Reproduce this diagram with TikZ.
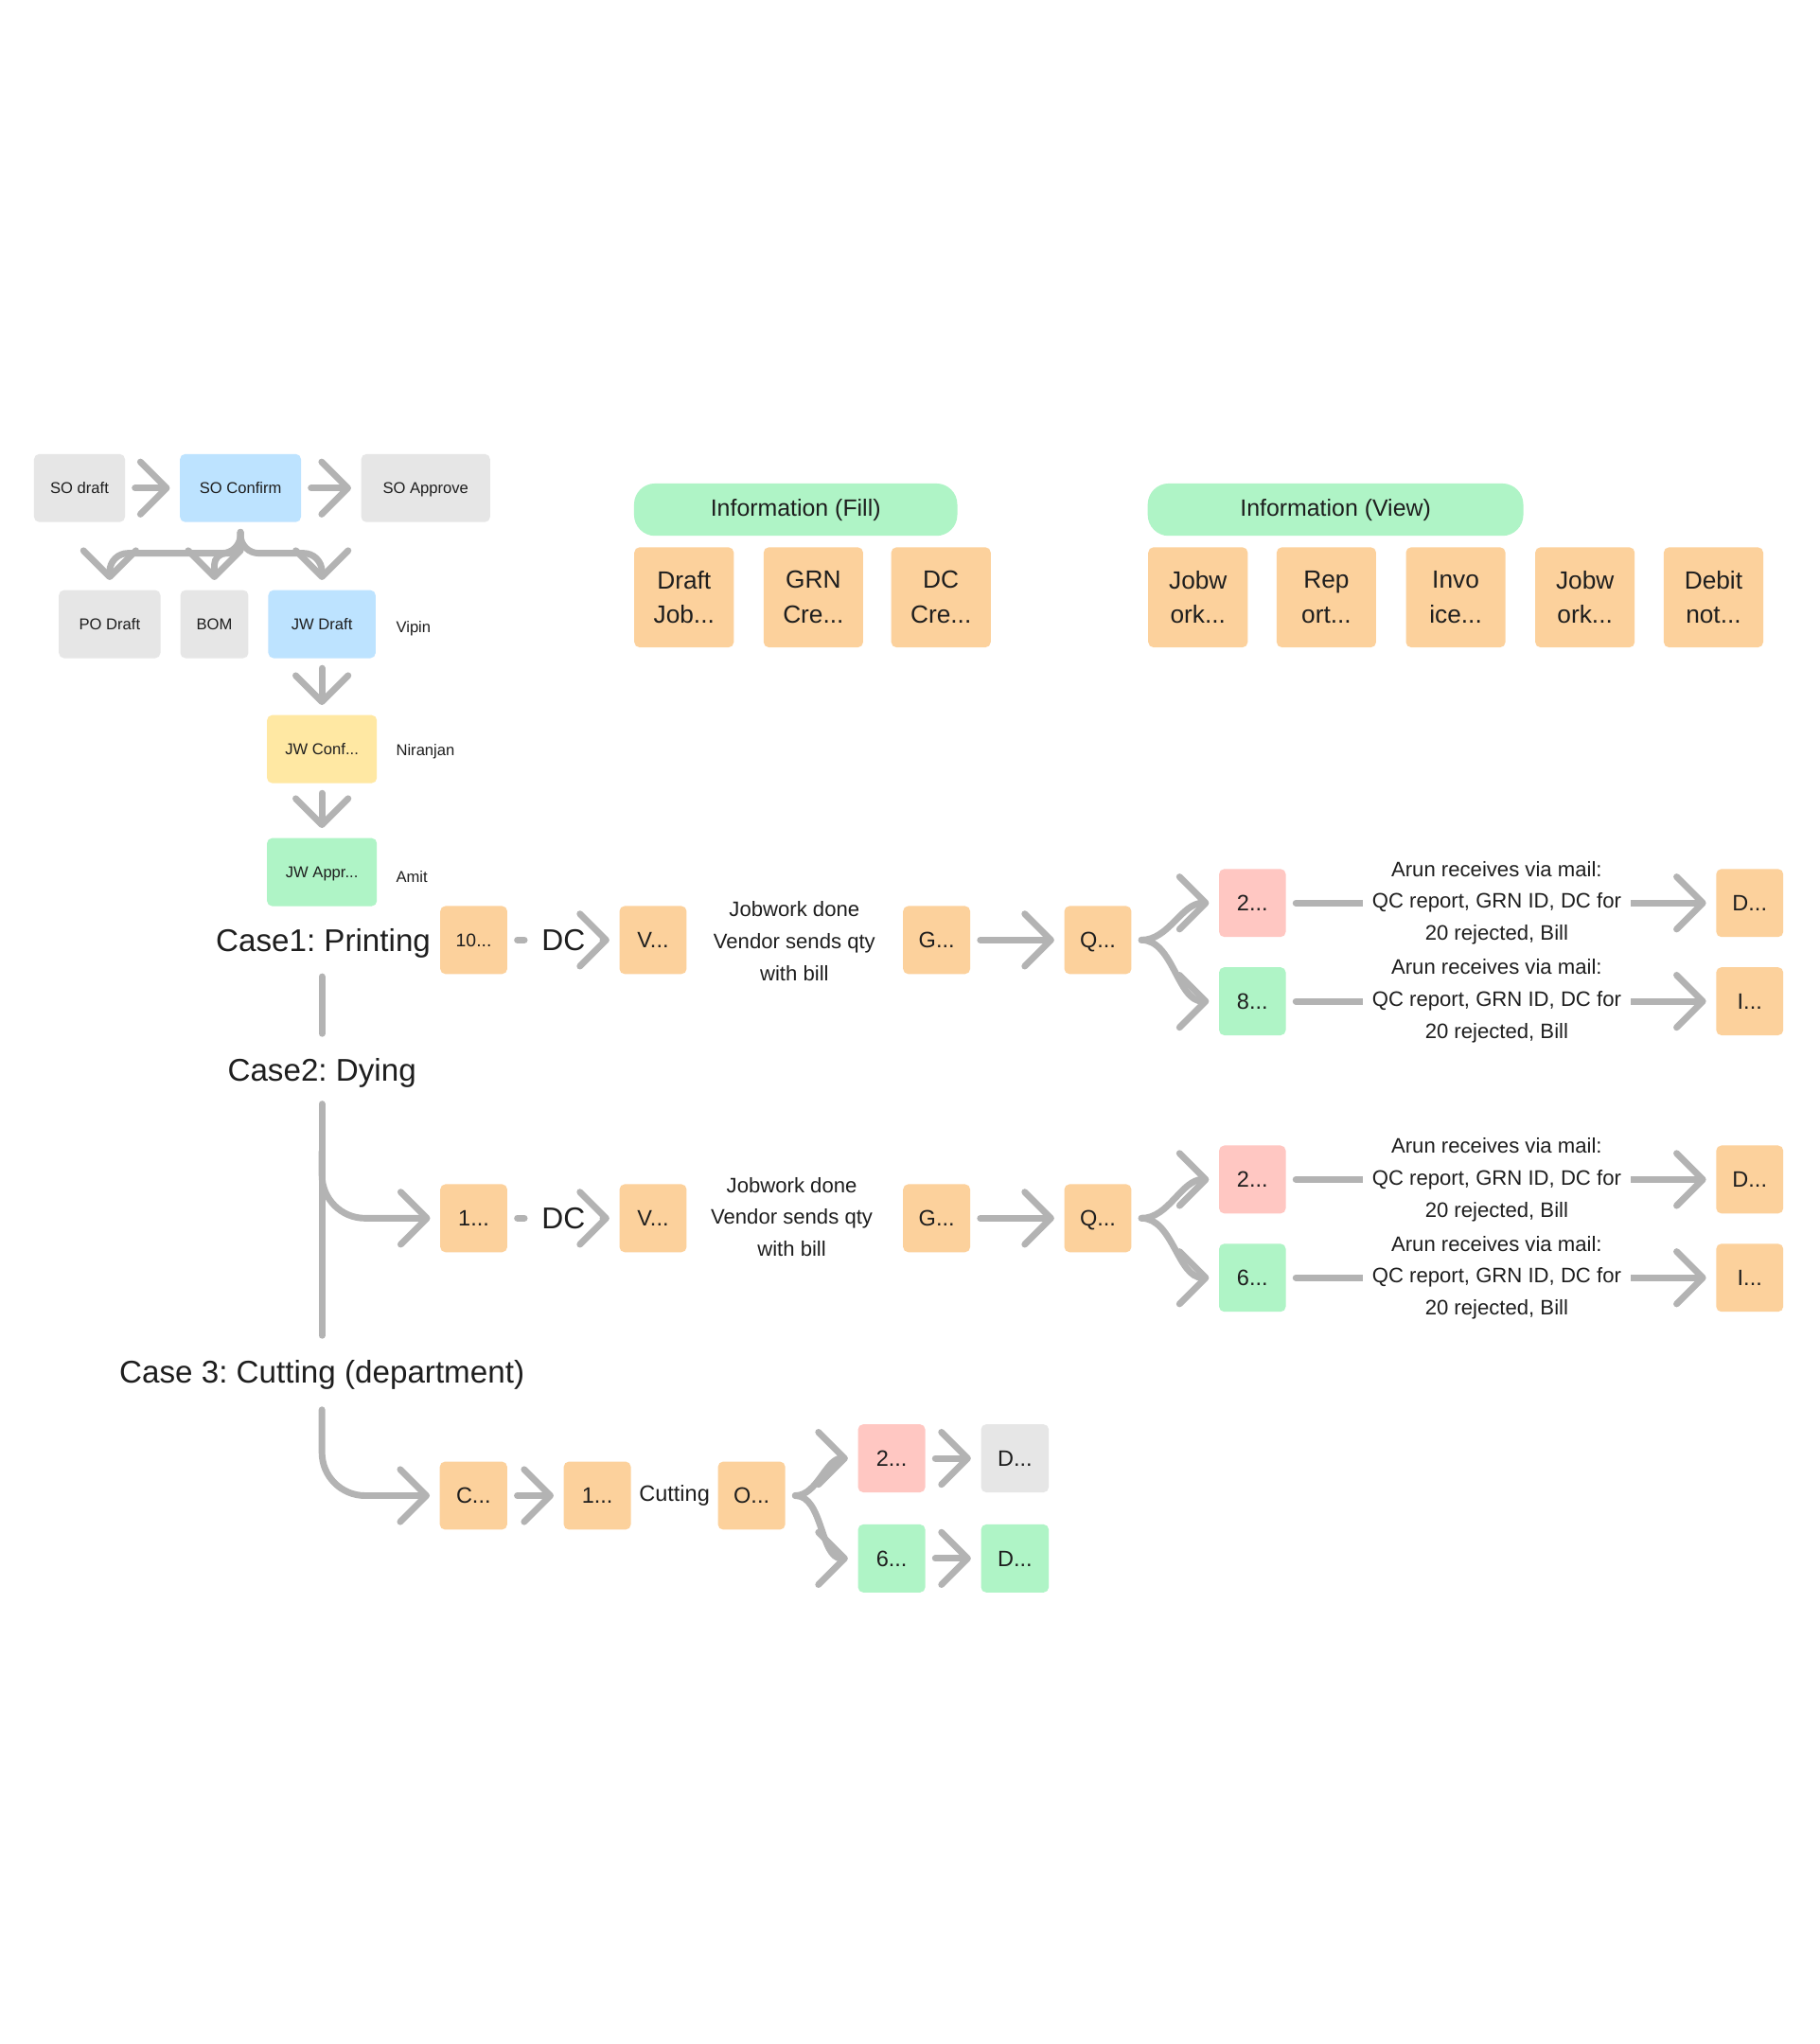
\documentclass[tikz,border=0pt]{standalone}
\usepackage{fontspec}
\setmainfont{Liberation Sans}
\usepackage{tikz}
\usetikzlibrary{arrows.meta}
\usetikzlibrary{calc}
\frenchspacing

\begin{document}
\begin{tikzpicture}[x=1pt, y=-1pt,
 every text node part/.style={align=center},
 card/.style={rectangle, inner sep=0pt, rounded corners=4pt, text=ink},
 box/.style={card, minimum height=52pt, text height=12.2pt, text depth=0pt, font=\fontsize{17}{20}\selectfont},
 sbox/.style={box, text height=8.6pt, font=\fontsize{12}{14}\selectfont},
 who/.style={anchor=west, inner sep=0pt, text=ink, font=\fontsize{12}{14}\selectfont},
 pill/.style={rectangle, inner sep=0pt, minimum height=40pt, rounded corners=16pt, fill=infogreen, text=ink, font=\fontsize{18}{20}\selectfont},
 info/.style={card, minimum width=76pt, minimum height=76.5pt, fill=steporange, font=\fontsize{19}{26.5}\selectfont},
 casetext/.style={inner sep=0pt, text=ink, font=\fontsize{24}{28}\selectfont},
 note/.style={inner sep=0pt, text=ink, font=\fontsize{16}{24.5}\selectfont},
 dclabel/.style={inner xsep=2pt, inner ysep=0pt, text=ink, font=\fontsize{23}{26}\selectfont},
 mail/.style={fill=white, inner xsep=7pt, inner ysep=0pt, pos=0.49, text=ink, font=\fontsize{16}{24.5}\selectfont},
 link/.style={draw=linegray, line width=5pt, line cap=round, shorten <=7.5pt, shorten >=7.5pt},
 arrow/.style={link, -{Straight Barb[length=20pt, width=40pt, round]}}]

    \definecolor{ink}{RGB}{30,30,30}
    \definecolor{boxgray}{RGB}{230,230,230}
    \definecolor{soblue}{RGB}{189,227,255}
    \definecolor{jwyellow}{RGB}{255,232,163}
    \definecolor{infogreen}{RGB}{175,244,198}
    \definecolor{steporange}{RGB}{252,209,156}
    \definecolor{rejred}{RGB}{255,199,194}
    \definecolor{linegray}{RGB}{179,179,179}

	\fill[white] (0,0) rectangle (1390,1562.1);
	\useasboundingbox (0,0) rectangle (1390,1562.1);

	% sales order flow
	\node[sbox, minimum width=69.5pt, fill=boxgray] (sod) at (60.75,373) {SO draft};
	\node[sbox, minimum width=92.5pt, fill=soblue] (soc) at (183.75,373) {SO Confirm};
	\node[sbox, minimum width=98.5pt, fill=boxgray] (soa) at (325.25,373) {SO Approve};
	\node[sbox, minimum width=77.6pt, fill=boxgray] (pod) at (83.8,477) {PO Draft};
	\node[sbox, minimum width=52pt, fill=boxgray] (bom) at (163.8,477) {BOM};
	\node[sbox, minimum width=82pt, fill=soblue] (jwd) at (246,477) {JW Draft};
	\node[sbox, minimum width=84pt, fill=jwyellow] (jwc) at (246,572.5) {JW Conf...};
	\node[sbox, minimum width=84pt, fill=infogreen] (jwa) at (246,666.5) {JW Appr...};
	\node[who] (vipin) at (302.5,480) {Vipin};
	\node[who] (niranjan) at (302.5,574.5) {Niranjan};
	\node[who] (amit) at (302.5,670) {Amit};

	\draw[arrow] (sod) -- (soc);
	\draw[arrow] (soc) -- (soa);
	\draw[arrow, rounded corners=14pt] (soc.south) |- ($(pod.north)+(0,-28)$) -- (pod.north);
	\draw[arrow, rounded corners=9pt] (soc.south) |- ($(bom.north)+(0,-28)$) -- (bom.north);
	\draw[arrow, rounded corners=14pt] (soc.south) |- ($(jwd.north)+(0,-28)$) -- (jwd.north);
	\draw[arrow] (jwd) -- (jwc);
	\draw[arrow] (jwc) -- (jwa);

	% information blocks
	\node[pill, minimum width=247pt] (fillinfo) at (608,389.5) {Information (Fill)};
	\node[pill, minimum width=287pt] (viewinfo) at (1020.5,389.5) {Information (View)};
	\node[info] (fdraft) at (522.7,456.5) {Draft\\Job...};
	\node[info] (fgrn) at (621.5,456.5) {GRN\\Cre...};
	\node[info] (fdc) at (719,456.5) {DC\\Cre...};
	\node[info] (vjob) at (915.4,456.5) {Jobw\\ork...};
	\node[info] (vrep) at (1013.5,456.5) {Rep\\ort...};
	\node[info] (vinv) at (1112.3,456.5) {Invo\\ice...};
	\node[info] (vjob2) at (1211.1,456.5) {Jobw\\ork...};
	\node[info] (vdeb) at (1309.3,456.5) {Debit\\not...};

	% case labels
	\node[casetext] (case1) at (247,721) {Case1: Printing};
	\node[casetext] (case2) at (246,820.3) {Case2: Dying};
	\node[casetext] (case3) at (246,1051) {Case 3: Cutting (department)};
	\coordinate (br2) at (246,880);

	\draw[link, shorten <=14pt, shorten >=19pt] (case1.south -| case2.north) -- (case2.north);
	\draw[link, shorten <=12pt, shorten >=19pt] (case2) -- (case3);

	% case 1
	\node[box, minimum width=51.2pt, fill=steporange, text height=10pt, font=\fontsize{14}{16}\selectfont] (c1a) at (362,718.4) {10...};
	\node[box, minimum width=51.3pt, fill=steporange] (c1v) at (499,718.4) {V...};
	\node[dclabel] (dc1) at (430.5,718.4) {DC};
	\node[note] (c1note) at (607,719.5) {Jobwork done\\Vendor sends qty\\with bill};
	\node[box, minimum width=51.3pt, fill=steporange] (c1g) at (715.7,718.4) {G...};
	\node[box, minimum width=51.3pt, fill=steporange] (c1q) at (838.9,718.4) {Q...};
	\node[box, minimum width=51pt, fill=rejred] (c1r) at (957,690.1) {2...};
	\node[box, minimum width=51pt, fill=infogreen] (c1k) at (957,765.2) {8...};
	\node[box, minimum width=51.3pt, fill=steporange] (c1d) at (1337,690.1) {D...};
	\node[box, minimum width=51.3pt, fill=steporange] (c1i) at (1337,765.2) {I...};

	\draw[link, shorten >=11pt] (c1a) -- (dc1);
	\draw[arrow, shorten <=13pt] (dc1) -- (c1v);
	\draw[arrow] (c1g) -- (c1q);
	\draw[arrow] (c1q) to[out=0, in=180] (c1r);
	\draw[arrow] (c1q) to[out=0, in=180] (c1k);
	\draw[arrow] (c1r) -- node[mail] {Arun receives via mail:\\QC report, GRN ID, DC for\\20 rejected, Bill} (c1d);
	\draw[arrow] (c1k) -- node[mail] {Arun receives via mail:\\QC report, GRN ID, DC for\\20 rejected, Bill} (c1i);

	% case 2
	\node[box, minimum width=51.2pt, fill=steporange] (c2a) at (362,931) {1...};
	\node[box, minimum width=51.3pt, fill=steporange] (c2v) at (499,931) {V...};
	\node[dclabel] (dc2) at (430.5,931) {DC};
	\node[note] (c2note) at (605,930) {Jobwork done\\Vendor sends qty\\with bill};
	\node[box, minimum width=51.3pt, fill=steporange] (c2g) at (715.7,931) {G...};
	\node[box, minimum width=51.3pt, fill=steporange] (c2q) at (838.9,931) {Q...};
	\node[box, minimum width=51pt, fill=rejred] (c2r) at (957,901.4) {2...};
	\node[box, minimum width=51pt, fill=infogreen] (c2k) at (957,976.5) {6...};
	\node[box, minimum width=51.3pt, fill=steporange] (c2d) at (1337,901.4) {D...};
	\node[box, minimum width=51.3pt, fill=steporange] (c2i) at (1337,976.5) {I...};

	\draw[arrow, shorten <=0pt, rounded corners=33pt] (br2) |- (c2a);
	\draw[link, shorten >=11pt] (c2a) -- (dc2);
	\draw[arrow, shorten <=13pt] (dc2) -- (c2v);
	\draw[arrow] (c2g) -- (c2q);
	\draw[arrow] (c2q) to[out=0, in=180] (c2r);
	\draw[arrow] (c2q) to[out=0, in=180] (c2k);
	\draw[arrow] (c2r) -- node[mail] {Arun receives via mail:\\QC report, GRN ID, DC for\\20 rejected, Bill} (c2d);
	\draw[arrow] (c2k) -- node[mail] {Arun receives via mail:\\QC report, GRN ID, DC for\\20 rejected, Bill} (c2i);

	% case 3
	\node[box, minimum width=51.5pt, fill=steporange] (c3c) at (361.8,1143) {C...};
	\node[box, minimum width=51.3pt, fill=steporange] (c3n) at (456.4,1143) {1...};
	\node[box, minimum width=51.4pt, fill=steporange] (c3o) at (574.3,1143) {O...};
	\node[note, font=\fontsize{17}{20}\selectfont] (cutting) at ($(c3n)!0.5!(c3o)$) {Cutting};
	\node[box, minimum width=51.4pt, fill=rejred] (c3r) at (681.3,1114.5) {2...};
	\node[box, minimum width=51.8pt, fill=boxgray] (c3g) at (775.5,1114.5) {D...};
	\node[box, minimum width=51.4pt, fill=infogreen] (c3k) at (681.3,1191) {6...};
	\node[box, minimum width=51.8pt, fill=infogreen] (c3h) at (775.5,1191) {D...};

	\draw[arrow, shorten <=15pt, rounded corners=33pt] (case3) |- (c3c);
	\draw[arrow] (c3c) -- (c3n);
	\draw[arrow] (c3o) to[out=0, in=180] (c3r);
	\draw[arrow] (c3o) to[out=0, in=180] (c3k);
	\draw[arrow] (c3r) -- (c3g);
	\draw[arrow] (c3k) -- (c3h);
\end{tikzpicture}
\end{document}
